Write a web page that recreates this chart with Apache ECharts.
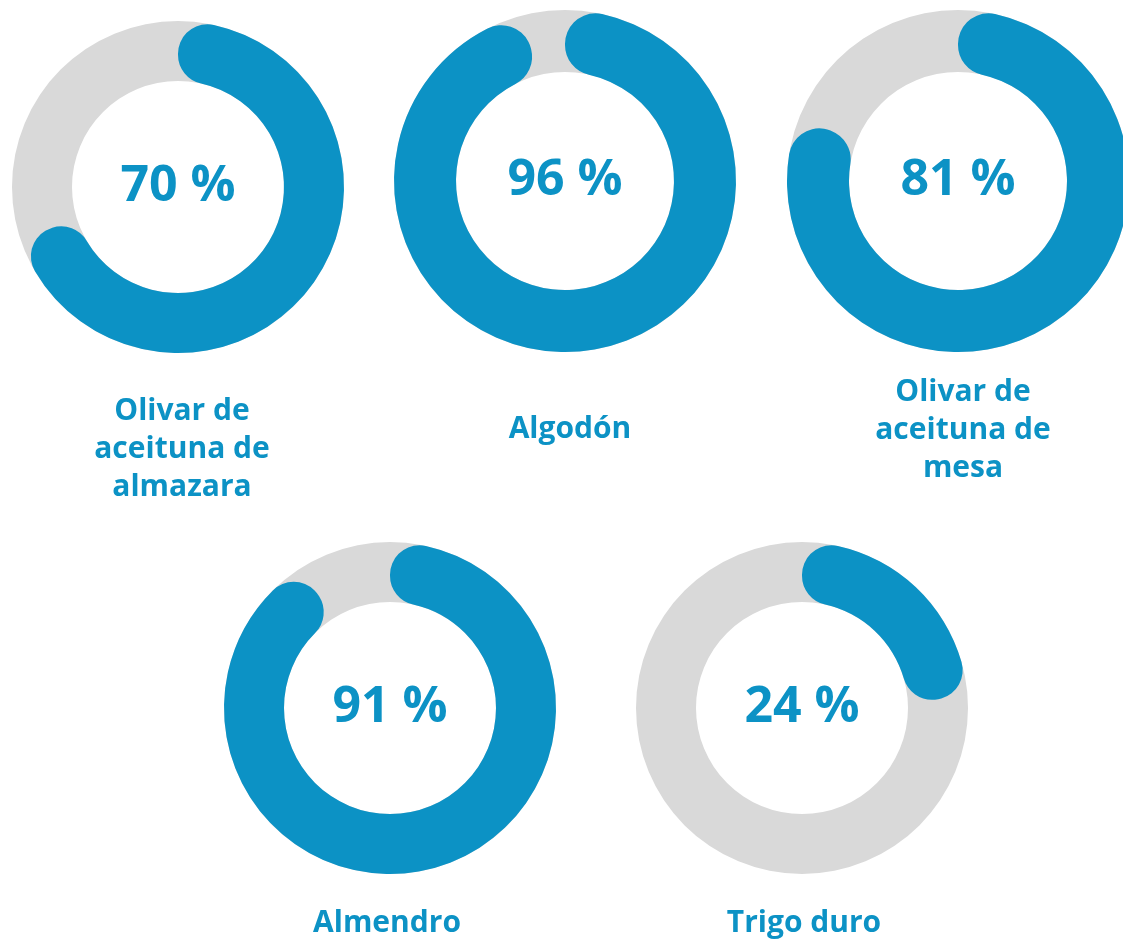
<!DOCTYPE html>
<html>
<head>
<meta charset="utf-8">
<script src="https://cdn.jsdelivr.net/npm/echarts@6/dist/echarts.min.js"></script>
<style>
html,body{margin:0;padding:0;background:#fff;}
#chart{width:1123px;height:939px;}
</style>
</head>
<body>
<div id="chart"></div>
<script>
// ---- data ----
var categories = ['Olivar de\naceituna de\nalmazara', 'Algodón', 'Olivar de\naceituna de\nmesa', 'Almendro', 'Trigo duro'];
var values = [70, 96, 81, 91, 24];
var total = 100;

// ---- layout (positions / sizes) ----
var centers = [[178, 187], [565, 181], [958, 181], [390, 708], [802, 708]];
var radii = [[106, 166], [109, 171], [109, 171], [106, 166], [106, 166]];
var labelPos = [[182, 449], [570, 429], [963, 430], [387, 923], [804, 923]];

var BLUE = '#0C92C5';
var GREY = '#D9D9D9';

var series = [];
var graphics = [];
categories.forEach(function (name, i) {
  var r = radii[i];
  var half = (r[1] - r[0]) / 2;
  // background ring
  series.push({
    type: 'pie', silent: true, center: centers[i], radius: r,
    startAngle: 90, clockwise: true, label: {show: false}, labelLine: {show: false},
    emphasis: {disabled: true},
    data: [{value: total, name: name + ' base', itemStyle: {color: GREY}}]
  });
  // value arc
  series.push({
    type: 'pie', silent: true, center: centers[i], radius: r,
    startAngle: 90, clockwise: true, labelLine: {show: false},
    emphasis: {disabled: true},
    label: {show: false},
    data: [
      {value: values[i], name: name, itemStyle: {color: BLUE, borderRadius: half - 0.5},
        label: {show: true, position: 'center', formatter: '{c} %', color: BLUE,
          fontFamily: 'Open Sans', fontWeight: 'bold', fontSize: 50}},
      {value: total - values[i], name: name + ' rest', itemStyle: {color: 'rgba(0,0,0,0)'}, label: {show: false}}
    ]
  });
  graphics.push({
    type: 'text', x: labelPos[i][0], y: labelPos[i][1],
    style: {text: name, fill: BLUE, align: 'center', verticalAlign: 'middle',
      font: 'bold 30px "Open Sans"', lineHeight: 38}
  });
});

var chart = echarts.init(document.getElementById('chart'), null, {renderer: 'canvas'});
chart.setOption({
  animation: false,
  backgroundColor: '#ffffff',
  series: series,
  graphic: graphics
});
</script>
</body>
</html>
